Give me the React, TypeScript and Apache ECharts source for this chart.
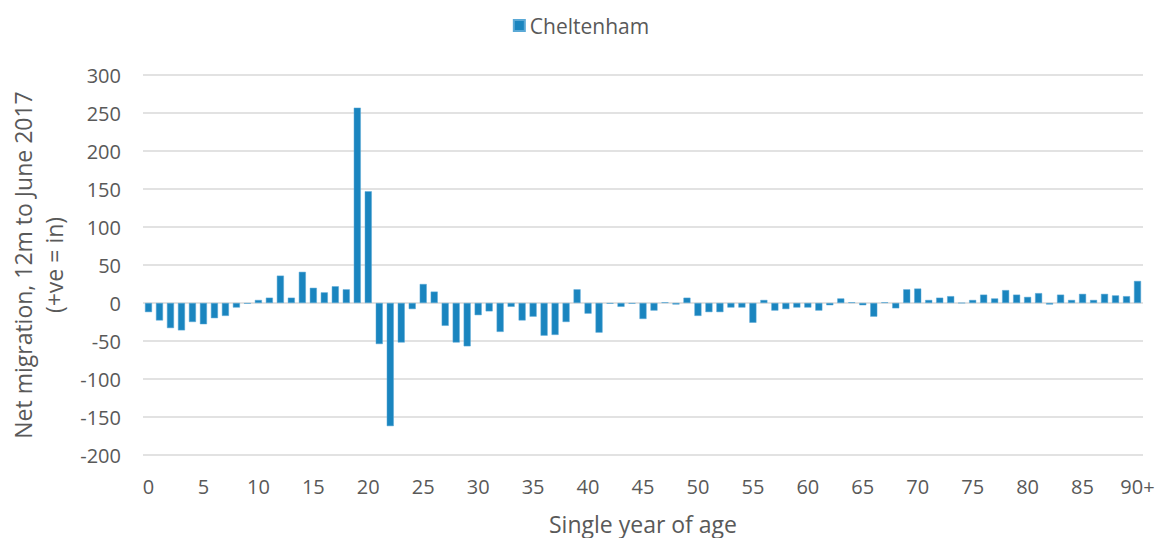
import React, { useEffect, useRef } from "react";
import * as echarts from "echarts";

const ages: string[] = [
  "0","1","2","3","4","5","6","7","8","9",
  "10","11","12","13","14","15","16","17","18","19",
  "20","21","22","23","24","25","26","27","28","29",
  "30","31","32","33","34","35","36","37","38","39",
  "40","41","42","43","44","45","46","47","48","49",
  "50","51","52","53","54","55","56","57","58","59",
  "60","61","62","63","64","65","66","67","68","69",
  "70","71","72","73","74","75","76","77","78","79",
  "80","81","82","83","84","85","86","87","88","89",
  "90+",
];

const cheltenham: number[] = [
  -12, -23, -33, -36, -25, -28, -20, -17, -6, -1,
  4, 7, 36, 7, 41, 20, 14, 22, 18, 257,
  147, -54, -162, -52, -8, 25, 15, -30, -52, -57,
  -16, -11, -38, -5, -23, -18, -43, -42, -25, 18,
  -14, -39, -1, -5, -1, -21, -10, 1, -2, 7,
  -17, -12, -12, -6, -6, -26, 4, -10, -8, -6,
  -6, -10, -3, 6, 1, -3, -18, 1, -7, 18,
  19, 4, 7, 9, 0, 4, 11, 6, 17, 11,
  8, 13, -2, 11, 4, 12, 4, 12, 10, 9,
  29,
];

const FONT = "'Open Sans', 'Liberation Sans', sans-serif";
const TEXT = "#595959";

export default function App() {
  const ref = useRef<HTMLDivElement>(null);
  useEffect(() => {
    if (!ref.current) return;
    const chart = echarts.init(ref.current, undefined, { renderer: "svg" });
    chart.setOption({
      animation: false,
      textStyle: { fontFamily: FONT },
      legend: {
        top: 10,
        left: "center",
        icon: "rect",
        itemWidth: 11,
        itemHeight: 11,
        itemGap: 5,
        textStyle: { fontSize: 21, color: TEXT, fontFamily: FONT },
        data: ["Cheltenham"],
      },
      grid: {
        left: 143,
        right: 19,
        top: 75,
        bottom: 83,
        containLabel: false,
        outerBoundsMode: "none",
      },
      xAxis: {
        type: "category",
        data: ages,
        name: "Single year of age",
        nameLocation: "middle",
        nameGap: 57,
        nameTextStyle: { fontSize: 23, color: TEXT, fontFamily: FONT },
        axisLine: { show: false, onZero: false },
        axisTick: { show: false },
        axisLabel: {
          interval: 4,
          fontSize: 20,
          color: TEXT,
          margin: 21,
          fontFamily: FONT,
        },
      },
      yAxis: {
        type: "value",
        min: -200,
        max: 300,
        interval: 50,
        name: "Net migration, 12m to June 2017\n(+ve = in)",
        nameLocation: "middle",
        nameRotate: 90,
        nameGap: 72,
        nameTextStyle: { fontSize: 23, color: TEXT, lineHeight: 31, fontFamily: FONT },
        axisLine: { show: false },
        axisTick: { show: false },
        axisLabel: { fontSize: 20, color: TEXT, margin: 22, fontFamily: FONT },
        splitLine: { lineStyle: { color: "#d9d9d9", width: 1.5 } },
      },
      series: [
        {
          name: "Cheltenham",
          type: "bar",
          data: cheltenham,
          barCategoryGap: "36%",
          itemStyle: { color: "#1a85bf", borderColor: "#5aa9d6", borderWidth: 0.5 },
        },
      ],
    });
    return () => chart.dispose();
  }, []);
  return (
    <div
      ref={ref}
      style={{ position: "absolute", left: 0, top: 0, width: 1162, height: 538 }}
    />
  );
}
